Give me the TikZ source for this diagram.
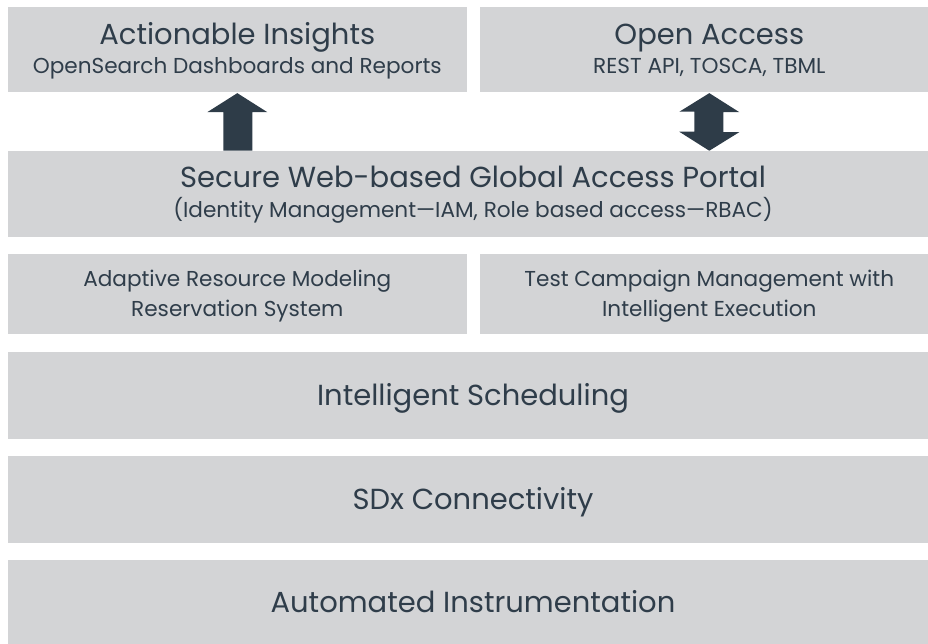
\documentclass[tikz,border=0pt]{standalone}
\usepackage{fontspec}
\setmainfont{Poppins}
\usetikzlibrary{calc}
\definecolor{boxgrey}{HTML}{D3D4D6}
\definecolor{ink}{HTML}{2F3D4A}
\definecolor{arrowink}{HTML}{2E3C48}
\tikzset{
  layer/.style={fill=boxgrey, draw=none, inner sep=0pt},
  txt/.style={anchor=base, inner sep=0pt, text=ink},
  bigtxt/.style={txt, font=\fontsize{29}{30}\selectfont},
  smalltxt/.style={txt, font=\fontsize{21.6}{26}\selectfont},
  fatarrow/.style={fill=arrowink, draw=none}
}
\begin{document}
\begin{tikzpicture}[x=1pt,y=-1pt]
\useasboundingbox (0,0) rectangle (928,644);
\begin{scope}
\clip (0,0) rectangle (928,644);
% boxes
\node[layer, minimum width=458.7pt, minimum height=84.7pt] (ins) at (237.3,49.3) {};
\node[layer, minimum width=458.7pt, minimum height=84.7pt] (oa) at (709.3,49.3) {};
\node[layer, minimum width=930pt, minimum height=85.7pt] (portal) at (473,193.8) {};
\node[layer, minimum width=458.7pt, minimum height=80pt] (arm) at (237.3,294) {};
\node[layer, minimum width=458.7pt, minimum height=80pt] (tcm) at (709.3,294) {};
\node[layer, minimum width=930pt, minimum height=87pt] (sched) at (473,395.2) {};
\node[layer, minimum width=930pt, minimum height=86.7pt] (sdx) at (473,499.3) {};
\node[layer, minimum width=930pt, minimum height=84pt] (auto) at (473,602) {};
\end{scope}
% texts
\node[bigtxt] (insA) at (ins |- 0,45) {Actionable Insights};
\node[smalltxt] (insB) at (ins |- 0,74) {OpenSearch Dashboards and Reports};
\node[bigtxt] (oaA) at (oa |- 0,45) {Open Access};
\node[smalltxt] (oaB) at (oa |- 0,74) {REST API, TOSCA, TBML};
\node[bigtxt] (portalA) at (portal |- 0,188) {Secure Web-based Global Access Portal};
\node[smalltxt] (portalB) at (portal |- 0,218) {(Identity Management—IAM, Role based access—RBAC)};
\node[smalltxt] (armA) at (arm |- 0,286.7) {Adaptive Resource Modeling};
\node[smalltxt] (armB) at (arm |- 0,316) {Reservation System};
\node[smalltxt] (tcmA) at (tcm |- 0,286.7) {Test Campaign Management with};
\node[smalltxt] (tcmB) at (tcm |- 0,316) {Intelligent Execution};
\node[bigtxt] (schedA) at (sched |- 0,405.3) {Intelligent Scheduling};
\node[bigtxt] (sdxA) at (sdx |- 0,509.5) {SDx Connectivity};
\node[bigtxt] (autoA) at (auto |- 0,612.3) {Automated Instrumentation};
% single arrow portal -> insights
\coordinate (a1t) at ($(ins.south)+(0,1.3)$);
\coordinate (a1b) at (a1t |- portal.north);
\fill[fatarrow] (a1t) -- ++(30,19) -- ++(-15,0) -- (a1b -| {$(a1t)+(15,0)$}) -- ++(-29,0) -- ($(a1t)+(-14,19)$) -- ++(-16,0) -- cycle;
% double arrow portal <-> open access
\coordinate (a2t) at ($(oa.south)+(0,1.3)$);
\coordinate (a2b) at (a2t |- portal.north);
\fill[fatarrow] (a2t) -- ++(30,19) -- ++(-16,0) -- ++(0,20) -- ++(16,0) -- (a2b) -- ++(-30,-19) -- ++(15,0) -- ++(0,-20) -- ++(-15,0) -- cycle;
\end{tikzpicture}
\end{document}
